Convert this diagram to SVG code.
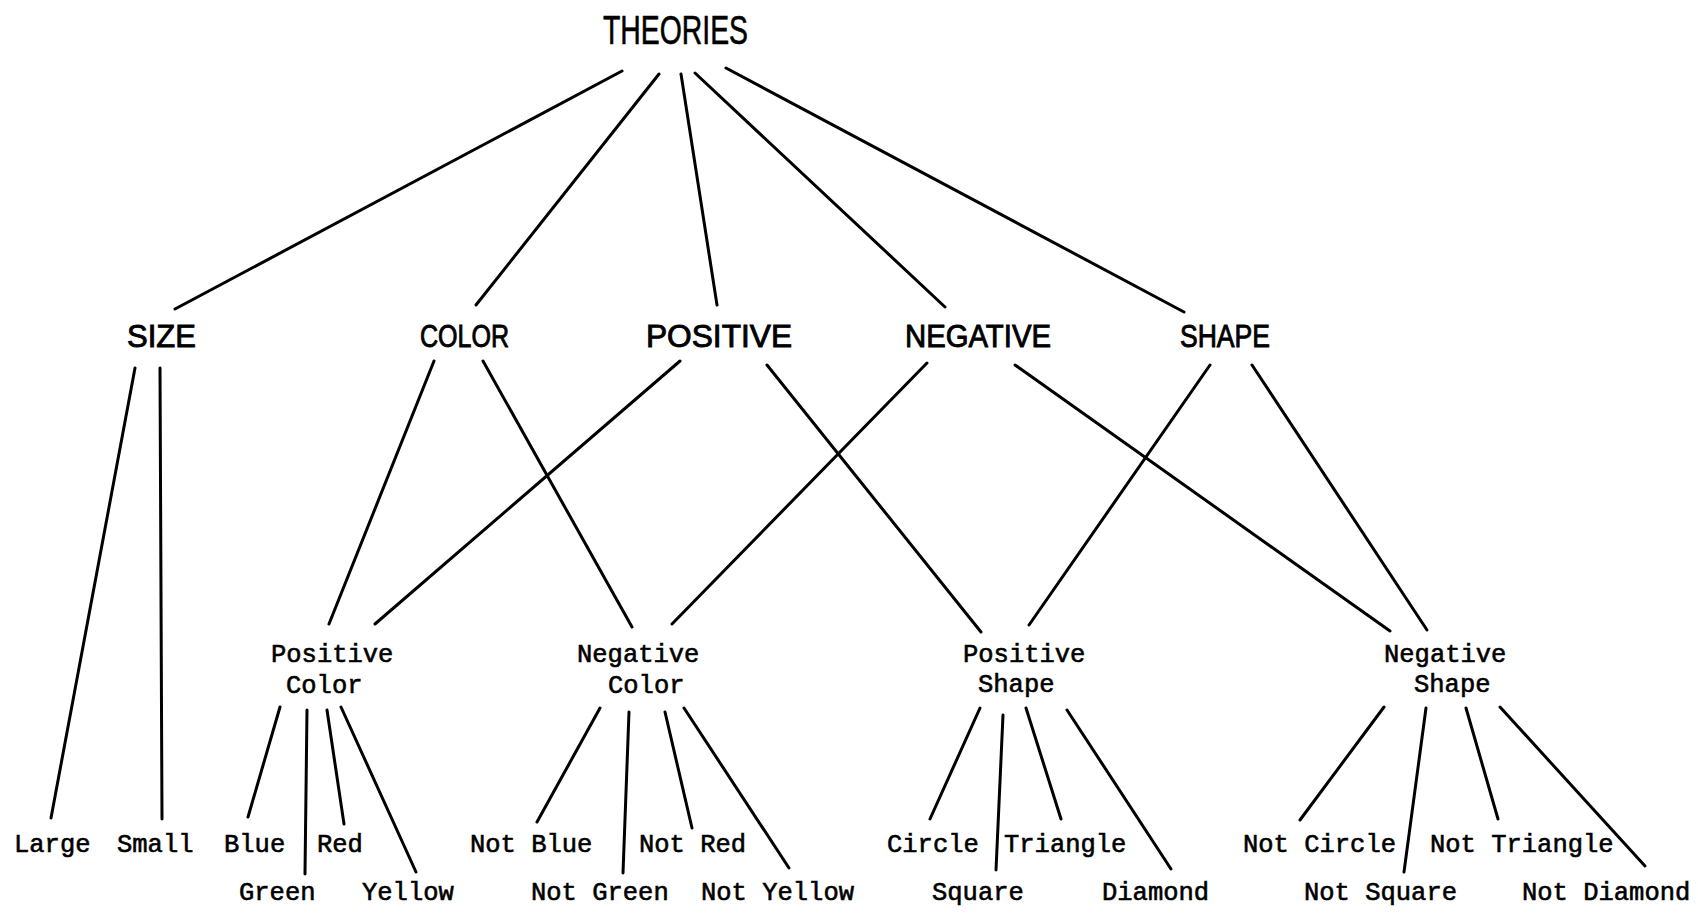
<svg xmlns="http://www.w3.org/2000/svg" width="1698" height="915" viewBox="0 0 1698 915">
<style>
.bg{fill:#fff}
.top{font-family:"Liberation Sans",Arial,sans-serif;font-size:31px;fill:#000;stroke:#000;stroke-width:0.9}
.root{font-family:"Liberation Sans",Arial,sans-serif;font-size:40px;fill:#000;stroke:#000;stroke-width:0.6}
.tw{font-family:"Liberation Mono","Courier New",monospace;font-size:25.5px;fill:#000;stroke:#000;stroke-width:0.6}
.ln{stroke:#000;stroke-width:3;stroke-linecap:round;fill:none}
</style>
<rect class="bg" x="0" y="0" width="1698" height="915"/>
<g id="connectors">
<line class="ln" x1="622" y1="71" x2="175" y2="309"/>
<line class="ln" x1="659" y1="74" x2="476" y2="305"/>
<line class="ln" x1="681" y1="74" x2="717" y2="305"/>
<line class="ln" x1="695" y1="73" x2="945" y2="307"/>
<line class="ln" x1="726" y1="68" x2="1184" y2="312"/>
<line class="ln" x1="135" y1="368" x2="51" y2="818"/>
<line class="ln" x1="160" y1="368" x2="162" y2="819"/>
<line class="ln" x1="434" y1="361" x2="329" y2="624"/>
<line class="ln" x1="483" y1="361" x2="632" y2="627"/>
<line class="ln" x1="680" y1="361" x2="375" y2="624"/>
<line class="ln" x1="767" y1="365" x2="981" y2="632"/>
<line class="ln" x1="927" y1="363" x2="672" y2="624"/>
<line class="ln" x1="1015" y1="365" x2="1390" y2="631"/>
<line class="ln" x1="1210" y1="365" x2="1029" y2="625"/>
<line class="ln" x1="1252" y1="365" x2="1427" y2="630"/>
<line class="ln" x1="280" y1="707" x2="248" y2="817"/>
<line class="ln" x1="307" y1="710" x2="305" y2="874"/>
<line class="ln" x1="327" y1="710" x2="344" y2="824"/>
<line class="ln" x1="341" y1="707" x2="416" y2="872"/>
<line class="ln" x1="600" y1="708" x2="537" y2="822"/>
<line class="ln" x1="629" y1="712" x2="623" y2="873"/>
<line class="ln" x1="665" y1="712" x2="692" y2="828"/>
<line class="ln" x1="684" y1="708" x2="789" y2="868"/>
<line class="ln" x1="980" y1="708" x2="930" y2="819"/>
<line class="ln" x1="1003" y1="715" x2="996" y2="870"/>
<line class="ln" x1="1026" y1="708" x2="1061" y2="819"/>
<line class="ln" x1="1067" y1="710" x2="1171" y2="869"/>
<line class="ln" x1="1384" y1="707" x2="1300" y2="820"/>
<line class="ln" x1="1426" y1="708" x2="1404" y2="872"/>
<line class="ln" x1="1466" y1="708" x2="1498" y2="819"/>
<line class="ln" x1="1500" y1="707" x2="1645" y2="866"/>
</g>
<g id="theories"><text class="root" x="603" y="44" textLength="145" lengthAdjust="spacingAndGlyphs">THEORIES</text></g>
<g id="size"><text class="top" x="127" y="347" textLength="69" lengthAdjust="spacing">SIZE</text></g>
<g id="color"><text class="top" x="420" y="347" textLength="89" lengthAdjust="spacingAndGlyphs">COLOR</text></g>
<g id="positive"><text class="top" x="646" y="347" textLength="146" lengthAdjust="spacingAndGlyphs">POSITIVE</text></g>
<g id="negative"><text class="top" x="905" y="347" textLength="146" lengthAdjust="spacingAndGlyphs">NEGATIVE</text></g>
<g id="shape"><text class="top" x="1180" y="347" textLength="90" lengthAdjust="spacingAndGlyphs">SHAPE</text></g>
<g id="positive-color"><text class="tw" x="271" y="662">Positive</text><text class="tw" x="286" y="693">Color</text></g>
<g id="negative-color"><text class="tw" x="577" y="662">Negative</text><text class="tw" x="608" y="693">Color</text></g>
<g id="positive-shape"><text class="tw" x="963" y="662">Positive</text><text class="tw" x="978" y="692">Shape</text></g>
<g id="negative-shape"><text class="tw" x="1384" y="662">Negative</text><text class="tw" x="1414" y="692">Shape</text></g>
<g id="large"><text class="tw" x="14" y="852">Large</text></g>
<g id="small"><text class="tw" x="117" y="852">Small</text></g>
<g id="blue"><text class="tw" x="224" y="852">Blue</text></g>
<g id="red"><text class="tw" x="317" y="852">Red</text></g>
<g id="green"><text class="tw" x="239" y="900">Green</text></g>
<g id="yellow"><text class="tw" x="362" y="900">Yellow</text></g>
<g id="not-blue"><text class="tw" x="470" y="852">Not Blue</text></g>
<g id="not-red"><text class="tw" x="639" y="852">Not Red</text></g>
<g id="not-green"><text class="tw" x="531" y="900">Not Green</text></g>
<g id="not-yellow"><text class="tw" x="701" y="900">Not Yellow</text></g>
<g id="circle"><text class="tw" x="887" y="852">Circle</text></g>
<g id="triangle"><text class="tw" x="1004" y="852">Triangle</text></g>
<g id="square"><text class="tw" x="932" y="900">Square</text></g>
<g id="diamond"><text class="tw" x="1102" y="900">Diamond</text></g>
<g id="not-circle"><text class="tw" x="1243" y="852">Not Circle</text></g>
<g id="not-triangle"><text class="tw" x="1430" y="852">Not Triangle</text></g>
<g id="not-square"><text class="tw" x="1304" y="900">Not Square</text></g>
<g id="not-diamond"><text class="tw" x="1522" y="900">Not Diamond</text></g>
</svg>
